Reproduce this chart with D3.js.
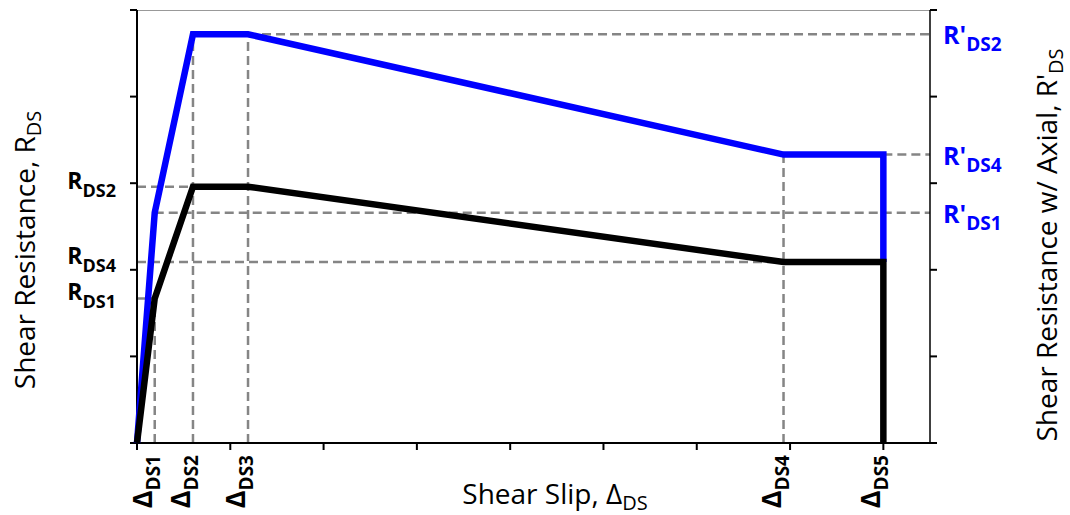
<!DOCTYPE html>
<html>
<head>
<meta charset="utf-8">
<script src="https://cdn.jsdelivr.net/npm/d3@7"></script>
<style>
  body { margin: 0; background: #fff; }
  text { font-family: "Open Sans", sans-serif; }
</style>
</head>
<body>
<div id="chart-area"></div>
<script>
// Shear resistance vs shear slip (backbone with / without axial load)

const xTicks = [0, 1, 2, 3, 4, 5, 6, 7, 8]
const yTicks = [0, 1, 2, 3, 4, 5]

// slip points, labelled along the bottom
const slipNames = ["DS1", "DS2", "DS3", "DS4", "DS5"]
const slipValues = [0.19, 0.6, 1.19, 6.93, 8.0]

// resistance levels, left (no axial) and right (with axial)
const resNames = ["DS2", "DS4", "DS1"]
const resValues = [2.96, 2.09, 1.67]
const axialNames = ["DS2", "DS4", "DS1"]
const axialValues = [4.72, 3.33, 2.66]

// the two backbone curves
const baseCurve = [[0, 0], [0.19, 1.67], [0.6, 2.96], [1.19, 2.96], [6.93, 2.09], [8.0, 2.09], [8.0, 0]]
const axialCurve = [[0, 0], [0.19, 2.66], [0.6, 4.72], [1.19, 4.72], [6.93, 3.33], [8.0, 3.33], [8.0, 2.09]]

// dashed guide lines [x1, y1, x2, y2]
const guides = [
	[0, 1.67, 0.19, 1.67],
	[0, 2.96, 0.6, 2.96],
	[0, 2.09, 6.93, 2.09],
	[0.19, 2.66, 8.5, 2.66],
	[1.19, 4.72, 8.5, 4.72],
	[8.0, 3.33, 8.5, 3.33],
	[0.19, 0, 0.19, 1.67],
	[0.6, 0, 0.6, 4.72],
	[1.19, 0, 1.19, 4.72],
	[6.93, 0, 6.93, 3.33]
]

const MARGIN = { LEFT: 137, RIGHT: 140, TOP: 10, BOTTOM: 72 }
const WIDTH = 1070 - MARGIN.LEFT - MARGIN.RIGHT
const HEIGHT = 515 - MARGIN.TOP - MARGIN.BOTTOM

const svg = d3.select("#chart-area").append("svg")
	.attr("width", 1070)
	.attr("height", 515)

const g = svg.append("g")
	.attr("transform", `translate(${MARGIN.LEFT}, ${MARGIN.TOP})`)

const x = d3.scaleLinear().domain([0, 8.5]).range([0, WIDTH])
const y = d3.scaleLinear().domain([0, 5]).range([HEIGHT, 0])

// top border
g.append("line")
	.attr("x1", 0).attr("x2", WIDTH)
	.attr("y1", 0.5).attr("y2", 0.5)
	.attr("stroke", "#999")
	.attr("stroke-width", 1)

// guides
g.append("g").selectAll("line")
	.data(guides)
	.enter().append("line")
	.attr("x1", d => x(d[0]))
	.attr("y1", d => y(d[1]))
	.attr("x2", d => x(d[2]))
	.attr("y2", d => y(d[3]))
	.attr("stroke", "#858585")
	.attr("stroke-width", 2.5)
	.attr("stroke-dasharray", "9,5")

// Axes
const styleAxis = sel => {
	sel.selectAll("line").attr("stroke", "#000").attr("stroke-width", 2)
	sel.select(".domain").attr("stroke", "#000").attr("stroke-width", 2)
	sel.selectAll("text").remove()
}

g.append("g")
	.attr("transform", `translate(0, ${HEIGHT})`)
	.call(d3.axisBottom(x).tickValues(xTicks).tickSize(7).tickSizeOuter(0).offset(0))
	.call(styleAxis)
	.select(".domain").attr("d", `M-7,0H${WIDTH + 2}`)

g.append("g")
	.call(d3.axisLeft(y).tickValues(yTicks).tickSize(7).tickSizeOuter(0).offset(0))
	.call(styleAxis)

g.append("g")
	.attr("transform", `translate(${WIDTH}, 0)`)
	.call(d3.axisRight(y).tickValues(yTicks).tickSize(7).tickSizeOuter(0).offset(0))
	.call(styleAxis)
	.select(".domain").attr("stroke-width", 1.5)

// curves
const line = d3.line().x(d => x(d[0])).y(d => y(d[1]))

g.append("path")
	.attr("d", line(axialCurve))
	.attr("fill", "none")
	.attr("stroke", "#0000ff")
	.attr("stroke-width", 6.5)

g.append("path")
	.attr("d", line(baseCurve))
	.attr("fill", "none")
	.attr("stroke", "#000")
	.attr("stroke-width", 6.5)

// left labels R_DS
resNames.forEach((name, i) => {
	const t = g.append("text")
		.attr("x", -21)
		.attr("y", y(resValues[i]) + 2)
		.attr("text-anchor", "end")
		.attr("font-weight", 700)
		.attr("font-size", "23px")
	t.append("tspan").text("R")
	t.append("tspan").attr("dy", 8).attr("font-size", "18px").text(name)
})

// right labels R'_DS
axialNames.forEach((name, i) => {
	const t = g.append("text")
		.attr("x", WIDTH + 13)
		.attr("y", y(axialValues[i]) + 10)
		.attr("fill", "#0000ff")
		.attr("font-weight", 700)
		.attr("font-size", "25px")
	t.append("tspan").text("R'")
	t.append("tspan").attr("dy", 7).attr("font-size", "19px").text(name)
})

// bottom labels Δ_DS
slipNames.forEach((name, i) => {
	const t = g.append("text")
		.attr("transform", `translate(${x(slipValues[i]) - 3}, ${HEIGHT + 12}) rotate(-90)`)
		.attr("text-anchor", "end")
		.attr("font-weight", 700)
		.attr("font-size", "27px")
	t.append("tspan").text("Δ")
	t.append("tspan").attr("dy", 8).attr("font-size", "19px").text(name)
})

// X Label
const xLabel = svg.append("text")
	.attr("x", 555)
	.attr("y", 504)
	.attr("text-anchor", "middle")
	.attr("font-size", "28px")
xLabel.append("tspan").text("Shear Slip, Δ")
xLabel.append("tspan").attr("dy", 6).attr("font-size", "20px").text("DS")

// Y Label
const yLabel = svg.append("text")
	.attr("transform", "translate(35, 250) rotate(-90)")
	.attr("text-anchor", "middle")
	.attr("font-size", "28px")
yLabel.append("tspan").text("Shear Resistance, R")
yLabel.append("tspan").attr("dy", 6).attr("font-size", "20px").text("DS")

// Right Y Label
const y2Label = svg.append("text")
	.attr("transform", "translate(1057, 245) rotate(-90)")
	.attr("text-anchor", "middle")
	.attr("font-size", "28px")
y2Label.append("tspan").text("Shear Resistance w/ Axial, R'")
y2Label.append("tspan").attr("dy", 6).attr("font-size", "20px").text("DS")
</script>
</body>
</html>
